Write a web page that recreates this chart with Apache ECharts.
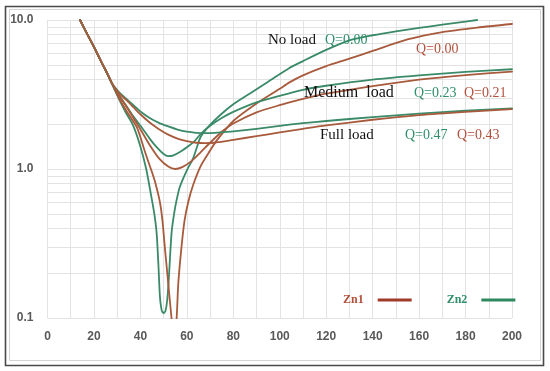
<!DOCTYPE html>
<html>
<head>
<meta charset="utf-8">
<script src="https://cdn.jsdelivr.net/npm/echarts@6/dist/echarts.min.js"></script>
<style>
html,body{margin:0;padding:0;background:#fff;}
#chart{width:550px;height:371px;}
</style>
</head>
<body>
<div id="chart"></div>
<script>
// ---- data ----
const xTickLabels = [0, 20, 40, 60, 80, 100, 120, 140, 160, 180, 200];
const yMinorGrid = [0.2, 0.3, 0.4, 0.5, 0.6, 0.7, 0.8, 0.9, 2, 3, 4, 5, 6, 7, 8, 9];

// No load, Zn2 (green) Q=0.00
const noLoadZn2X = [14, 17, 20, 23, 26, 28, 31, 34, 36.8, 39.8, 42.5, 44.8, 46, 47, 47.8, 48.4, 49.2, 50, 50.8, 51.5, 52.2, 53.4, 54.5, 55.6, 57, 60, 62.7, 65.6, 67, 70, 75, 80, 87, 95, 104, 110, 120, 130, 140, 150, 160, 170, 180, 185];
const noLoadZn2Y = [10, 8.1, 6.6, 5.3, 4.25, 3.65, 2.9, 2.35, 1.97, 1.45, 1.0, 0.64, 0.5, 0.37, 0.22, 0.14, 0.112, 0.108, 0.112, 0.13, 0.18, 0.37, 0.5, 0.62, 0.76, 0.98, 1.18, 1.6, 1.74, 1.98, 2.35, 2.72, 3.2, 3.85, 4.75, 5.3, 6.3, 7.3, 7.9, 8.4, 8.85, 9.3, 9.75, 10];

// No load, Zn1 (red) Q=0.00
const noLoadZn1X = [14, 17, 20, 23, 26, 28, 31, 34, 38.5, 42, 45, 46.5, 48.4, 49.5, 50.5, 52, 53.4, 54.5, 55.6, 56.3, 57.7, 59, 60.6, 62.7, 66, 70, 72.8, 80, 90, 100, 104, 110, 120, 130, 140, 155, 170, 185, 200];
const noLoadZn1Y = [10, 8.1, 6.6, 5.3, 4.28, 3.68, 2.95, 2.45, 1.9, 1.3, 0.95, 0.8, 0.6, 0.45, 0.3, 0.17, 0.1, 0.07, 0.1, 0.17, 0.3, 0.45, 0.6, 0.78, 1.05, 1.33, 1.55, 2.1, 2.75, 3.45, 3.8, 4.25, 4.9, 5.5, 6.2, 7.4, 8.3, 8.9, 9.4];

// Medium load, Zn2 (green) Q=0.23
const mediumZn2X = [14, 17, 20, 23, 26, 28, 31, 34, 37, 40.6, 44, 47, 50, 52, 54, 57, 60, 63, 66, 70, 75, 80, 90, 100, 110, 120, 140, 160, 180, 200];
const mediumZn2Y = [10, 8.1, 6.6, 5.3, 4.3, 3.7, 3.1, 2.65, 2.25, 1.9, 1.6, 1.4, 1.26, 1.22, 1.23, 1.3, 1.4, 1.52, 1.72, 1.95, 2.2, 2.42, 2.8, 3.1, 3.4, 3.62, 3.98, 4.25, 4.48, 4.67];

// Medium load, Zn1 (red) Q=0.21
const mediumZn1X = [14, 17, 20, 23, 26, 28, 31, 34, 37, 40, 44, 48, 52, 55, 58, 62, 66, 70, 75, 80, 90, 100, 110, 120, 140, 160, 180, 200];
const mediumZn1Y = [10, 8.1, 6.6, 5.3, 4.3, 3.7, 3.08, 2.62, 2.2, 1.85, 1.45, 1.18, 1.04, 1.0, 1.03, 1.13, 1.3, 1.5, 1.78, 2.02, 2.4, 2.68, 2.95, 3.2, 3.6, 3.98, 4.27, 4.5];

// Full load, Zn2 (green) Q=0.47
const fullZn2X = [14, 17, 20, 23, 26, 28, 31, 34, 37, 40, 44, 48, 52, 56, 60, 64, 68, 72, 76, 80, 90, 100, 110, 120, 140, 160, 180, 200];
const fullZn2Y = [10, 8.1, 6.6, 5.3, 4.3, 3.7, 3.25, 2.95, 2.68, 2.43, 2.2, 2.04, 1.93, 1.84, 1.78, 1.75, 1.74, 1.75, 1.77, 1.79, 1.86, 1.95, 2.03, 2.1, 2.23, 2.35, 2.46, 2.55];

// Full load, Zn1 (red) Q=0.43
const fullZn1X = [14, 17, 20, 23, 26, 28, 31, 34, 37, 40, 44, 48, 52, 56, 60, 64, 68, 72, 76, 80, 90, 100, 110, 120, 140, 160, 180, 200];
const fullZn1Y = [10, 8.1, 6.6, 5.3, 4.3, 3.7, 3.2, 2.9, 2.6, 2.33, 2.05, 1.85, 1.7, 1.6, 1.54, 1.5, 1.49, 1.5, 1.53, 1.57, 1.66, 1.76, 1.86, 1.96, 2.14, 2.3, 2.42, 2.52];

// ---- styling ----
const RED = '#a85a3c';
const GREEN = '#3a8a68';
const RED_TXT = '#b3503c';
const GREEN_TXT = '#2f8f6a';
const GRID = '#e3e3e3';

function pairs(xs, ys) { return xs.map((x, i) => [x, ys[i]]); }
function curve(name, color, xs, ys) {
  return {
    name: name, type: 'line', data: pairs(xs, ys),
    showSymbol: false, symbol: 'none', smooth: 0.25, z: 8,
    lineStyle: { color: color, width: 1.8, type: 'solid', cap: 'round', join: 'round' },
    itemStyle: { color: color },
    clip: true, silent: true, animation: false
  };
}

const chart = echarts.init(document.getElementById('chart'), null, { renderer: 'canvas' });

const serifTxt = (text, x, y, color, size, weight) => ({
  type: 'text', x: x, y: y, silent: true, z: 10,
  style: { text: text, fill: color, font: (weight || 'normal') + ' ' + size + 'px "Liberation Serif", "Times New Roman", serif', textVerticalAlign: 'middle', verticalAlign: 'middle' }
});

chart.setOption({
  animation: false,
  backgroundColor: '#ffffff',
  grid: { left: 47.5, right: 38, top: 20, bottom: 53, containLabel: false },
  xAxis: {
    type: 'value', min: 0, max: 200, interval: 20,
    axisLine: { show: false }, axisTick: { show: false },
    axisLabel: {
      margin: 13, color: '#595959', fontWeight: 'bold', fontSize: 12,
      fontFamily: '"Liberation Sans", Arial, sans-serif',
      formatter: function (v) { return xTickLabels.indexOf(v) >= 0 ? String(v) : ''; }
    },
    splitLine: { show: true, lineStyle: { color: GRID, width: 1 } },
    minorTick: { show: false, splitNumber: 2 },
    minorSplitLine: { show: true, lineStyle: { color: GRID, width: 1 } }
  },
  yAxis: {
    type: 'log', logBase: 10, min: 0.1, max: 10,
    axisLine: { show: false }, axisTick: { show: false },
    axisLabel: {
      margin: 14, color: '#595959', fontWeight: 'bold', fontSize: 12,
      fontFamily: '"Liberation Sans", Arial, sans-serif',
      formatter: function (v) { return Number(v).toFixed(1); }
    },
    splitLine: { show: true, lineStyle: { color: GRID, width: 1 } }
  },
  legend: {
    left: 343, top: 294, padding: 0, align: 'right', itemGap: 35,
    itemWidth: 34, itemHeight: 3, icon: 'rect',
    textStyle: { fontFamily: '"Liberation Serif", "Times New Roman", serif', fontWeight: 'bold', fontSize: 12 },
    formatter: function (n) { return n + '   '; },
    data: [
      { name: 'Zn1', textStyle: { color: RED_TXT }, itemStyle: { color: '#a03a2a' } },
      { name: 'Zn2', textStyle: { color: GREEN_TXT }, itemStyle: { color: '#2e8a5e' } }
    ],
    selectedMode: false
  },
  series: [
    {
      name: 'minor-grid', type: 'line', data: [], z: 1, silent: true,
      markLine: {
        silent: true, symbol: 'none', animation: false, z: 1,
        label: { show: false },
        lineStyle: { color: GRID, width: 1, type: 'solid' },
        data: yMinorGrid.map(v => ({ yAxis: v }))
      }
    },
    curve('Zn2', GREEN, noLoadZn2X, noLoadZn2Y),
    curve('Zn1', RED, noLoadZn1X, noLoadZn1Y),
    curve('Zn2', GREEN, mediumZn2X, mediumZn2Y),
    curve('Zn1', RED, mediumZn1X, mediumZn1Y),
    curve('Zn2', GREEN, fullZn2X, fullZn2Y),
    curve('Zn1', RED, fullZn1X, fullZn1Y)
  ],
  graphic: [
    { type: 'rect', silent: true, z: 0, shape: { x: 5.5, y: 6.5, width: 538, height: 359 }, style: { fill: 'none', stroke: '#4a4a4a', lineWidth: 1.6 } },
    { type: 'rect', silent: true, z: 0, shape: { x: 9.5, y: 9.5, width: 531, height: 351 }, style: { fill: 'none', stroke: '#d4d4d4', lineWidth: 1 } },
    serifTxt('No load', 268, 40, '#111111', 15),
    serifTxt('Q=0.00', 325, 40, GREEN_TXT, 14),
    serifTxt('Q=0.00', 416, 49, RED_TXT, 14),
    serifTxt('Medium  load', 304, 93, '#111111', 16),
    serifTxt('Q=0.23', 414, 93, GREEN_TXT, 14),
    serifTxt('Q=0.21', 464, 93, RED_TXT, 14),
    serifTxt('Full load', 320, 135, '#111111', 15),
    serifTxt('Q=0.47', 405, 135, GREEN_TXT, 14),
    serifTxt('Q=0.43', 457, 135, RED_TXT, 14)
  ]
});
</script>
</body>
</html>
